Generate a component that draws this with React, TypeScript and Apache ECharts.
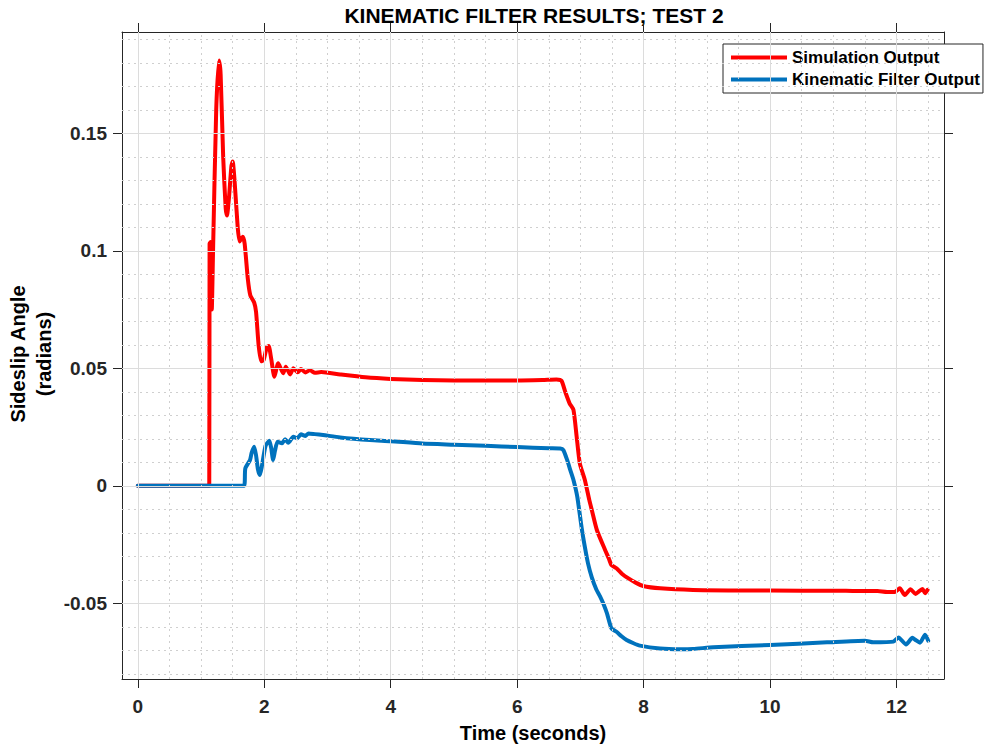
import React, { useEffect, useRef } from "react";
import * as echarts from "echarts";

// Time (s) and sideslip angle (rad) of the simulated vehicle
const simTime = [
  0, 1.13, 1.135, 1.15, 1.17, 1.19, 1.24, 1.285, 1.31, 1.35, 1.39, 1.41, 1.44, 1.48, 1.5, 1.53,
  1.58, 1.61, 1.66, 1.69, 1.74, 1.78, 1.84, 1.87, 1.91, 1.95, 1.99, 2.04, 2.07, 2.11, 2.16, 2.22,
  2.3, 2.34, 2.41, 2.46, 2.53, 2.58, 2.65, 2.72, 2.8, 2.9, 3.2, 3.6, 4.0, 4.5, 5.0, 5.5, 6.0, 6.4,
  6.62, 6.7, 6.76, 6.83, 6.89, 6.94, 6.99, 7.07, 7.14, 7.18, 7.26, 7.39, 7.45, 7.49, 7.57,
  7.66, 7.76, 7.88, 7.99, 8.26, 8.78, 9.5, 10.5, 11.2, 11.7, 11.85, 11.97, 12.05, 12.13, 12.22,
  12.3, 12.36, 12.41, 12.45, 12.49,
];
const simAngle = [
  0, 0, 0.103, 0.1037, 0.075, 0.1, 0.16, 0.181, 0.175, 0.14, 0.118, 0.115, 0.122, 0.136, 0.138,
  0.13, 0.11, 0.104, 0.106, 0.103, 0.088, 0.081, 0.078, 0.074, 0.06, 0.053, 0.0535, 0.059, 0.0595,
  0.054, 0.0464, 0.0521, 0.0479, 0.0507, 0.0474, 0.05, 0.0483, 0.0497, 0.0482, 0.0492, 0.0481,
  0.0484, 0.0474, 0.0462, 0.0455, 0.045, 0.0448, 0.0448, 0.0448, 0.045, 0.0452, 0.0447, 0.04,
  0.035, 0.0323, 0.021, 0.0096, 0.0025, -0.006, -0.0103, -0.0188, -0.0273, -0.031,
  -0.0337, -0.0351, -0.0375, -0.0394, -0.0413, -0.0426, -0.0436, -0.0443, -0.0445, -0.0446,
  -0.0447, -0.0448, -0.0452, -0.0452, -0.0436, -0.0465, -0.044, -0.046, -0.0448, -0.0439, -0.0457,
  -0.0443,
];

// Time (s) and sideslip angle (rad) estimated by the kinematic filter
const filterTime = [
  0, 1.68, 1.7, 1.775, 1.8, 1.84, 1.87, 1.9, 1.93, 1.96, 2.02, 2.08, 2.11, 2.14, 2.17, 2.21, 2.28,
  2.33, 2.38, 2.46, 2.52, 2.58, 2.65, 2.7, 2.8, 2.93, 3.2, 3.67, 4.0, 4.5, 5.0, 5.5, 6.0, 6.5, 6.68,
  6.73, 6.79, 6.84, 6.89, 6.95, 7.02, 7.07, 7.12, 7.18, 7.25, 7.31, 7.36, 7.42, 7.49, 7.57, 7.65,
  7.73, 7.84, 7.94, 8.26, 8.57, 8.78, 9.1, 10.0, 10.9, 11.5, 11.63, 11.95, 12.03, 12.15, 12.25,
  12.3, 12.37, 12.45, 12.5,
];
const filterAngle = [
  0, 0, 0.0074, 0.011, 0.014, 0.0166, 0.013, 0.007, 0.0046, 0.008, 0.017, 0.0192, 0.016, 0.011,
  0.015, 0.0188, 0.0181, 0.0198, 0.0183, 0.0209, 0.0202, 0.0219, 0.0212, 0.0223, 0.022, 0.0216,
  0.0206, 0.0195, 0.019, 0.018, 0.0175, 0.017, 0.0165, 0.016, 0.0159, 0.0152, 0.011, 0.0067,
  0.0025, -0.0046, -0.018, -0.026, -0.033, -0.039, -0.044, -0.047, -0.05, -0.0543, -0.0606,
  -0.0621, -0.064, -0.0656, -0.067, -0.068, -0.0692, -0.0695, -0.0694, -0.0687, -0.0677, -0.0666,
  -0.0659, -0.0666, -0.0663, -0.0645, -0.0675, -0.0647, -0.0656, -0.0668, -0.0634, -0.0659,
];

const xTicks = [0, 2, 4, 6, 8, 10, 12];
const yTicks = [-0.05, 0, 0.05, 0.1, 0.15];
const yTickLabels = ["-0.05", "0", "0.05", "0.1", "0.15"];

const seriesNames = ["Simulation Output", "Kinematic Filter Output"];
const seriesColors = ["#ff0000", "#0072bd"];

const X_MIN = -0.25;
const X_MAX = 12.75;
const Y_MIN = -0.0822;
const Y_MAX = 0.1931;

const FONT = '"Liberation Sans", Arial, Helvetica, sans-serif';
const AXIS_COLOR = "#262626";

function pairs(xs: number[], ys: number[]) {
  return xs.map((x, i) => [x, ys[i]]);
}

// minor grid: every 0.5 s and every 0.01 rad
function minorX() {
  const out: number[] = [];
  for (let i = 1; i <= 25; i++) if (i % 4 !== 0) out.push(i * 0.5);
  return out;
}
function minorY() {
  const out: number[] = [];
  for (let i = -8; i <= 19; i++) if (i % 5 !== 0) out.push(i / 100);
  return out;
}

export default function App() {
  const ref = useRef<HTMLDivElement>(null);

  useEffect(() => {
    if (!ref.current) return;
    const chart = echarts.init(ref.current, undefined, { renderer: "svg" });

    const minorStyle = { color: "#cfcfcf", width: 1, type: [2, 4] as number[] };
    const majorStyle = { color: "#dcdcdc", width: 1, type: "solid" as const };

    const gridLines = [
      ...minorX().map((v) => ({ xAxis: v, lineStyle: minorStyle })),
      ...minorY().map((v) => ({ yAxis: v, lineStyle: minorStyle })),
      ...xTicks.map((v) => ({ xAxis: v, lineStyle: majorStyle })),
      ...yTicks.map((v) => ({ yAxis: v, lineStyle: majorStyle })),
    ];

    const tickCommon = {
      show: true,
      inside: false,
      length: 9,
      lineStyle: { color: AXIS_COLOR, width: 1 },
    };
    const lineCommon = { show: true, onZero: false, lineStyle: { color: AXIS_COLOR, width: 1 } };

    const textStyle = (text: string) => ({
      text,
      font: `bold 20px ${FONT}`,
      fill: "#000000",
      align: "center",
      verticalAlign: "middle",
      textAlign: "center",
      textVerticalAlign: "middle",
    });

    chart.setOption({
      animation: false,
      backgroundColor: "#ffffff",
      grid: { left: 122, top: 32, right: 42, bottom: 70, containLabel: false },
      xAxis: [
        {
          type: "value",
          min: X_MIN,
          max: X_MAX,
          position: "bottom",
          axisLine: lineCommon,
          axisTick: { ...tickCommon, customValues: xTicks },
          axisLabel: {
            customValues: xTicks,
            margin: 18,
            color: AXIS_COLOR,
            fontFamily: FONT,
            fontWeight: "bold",
            fontSize: 19,
            formatter: (v: number) => String(v),
          },
          splitLine: { show: false },
        },
        {
          type: "value",
          min: X_MIN,
          max: X_MAX,
          position: "top",
          axisLine: lineCommon,
          axisTick: { ...tickCommon, customValues: xTicks },
          axisLabel: { show: false },
          splitLine: { show: false },
        },
      ],
      yAxis: [
        {
          type: "value",
          min: Y_MIN,
          max: Y_MAX,
          position: "left",
          axisLine: lineCommon,
          axisTick: { ...tickCommon, customValues: yTicks },
          axisLabel: {
            customValues: yTicks,
            margin: 15,
            color: AXIS_COLOR,
            fontFamily: FONT,
            fontWeight: "bold",
            fontSize: 19,
            formatter: (v: number) => {
              const i = yTicks.findIndex((t) => Math.abs(t - v) < 1e-9);
              return i >= 0 ? yTickLabels[i] : "";
            },
          },
          splitLine: { show: false },
        },
        {
          type: "value",
          min: Y_MIN,
          max: Y_MAX,
          position: "right",
          axisLine: lineCommon,
          axisTick: { ...tickCommon, customValues: yTicks },
          axisLabel: { show: false },
          splitLine: { show: false },
        },
      ],
      legend: {
        show: true,
        orient: "vertical",
        left: 723,
        top: 44,
        data: seriesNames.map((n) => ({ name: n, icon: "rect" })),
        itemWidth: 56,
        itemHeight: 4,
        itemGap: 5,
        padding: [5, 3, 5, 8],
        borderColor: AXIS_COLOR,
        borderWidth: 1,
        backgroundColor: "#ffffff",
        borderRadius: 0,
        textStyle: {
          color: "#000000",
          fontFamily: FONT,
          fontWeight: "bold",
          fontSize: 17,
          lineHeight: 17,
        },
      },
      graphic: [
        {
          type: "text",
          x: 534,
          y: 15,
          style: { ...textStyle("KINEMATIC FILTER RESULTS; TEST 2"), font: `bold 21px ${FONT}` },
        },
        { type: "text", x: 533, y: 733, style: textStyle("Time (seconds)") },
        { type: "text", x: 18, y: 354, rotation: Math.PI / 2, style: textStyle("Sideslip Angle") },
        { type: "text", x: 44, y: 354, rotation: Math.PI / 2, style: textStyle("(radians)") },
      ],
      series: [
        {
          name: "grid",
          type: "line",
          data: [],
          silent: true,
          z: 1,
          markLine: {
            silent: true,
            symbol: ["none", "none"],
            label: { show: false },
            animation: false,
            data: gridLines,
          },
        },
        {
          name: seriesNames[0],
          type: "line",
          data: pairs(simTime, simAngle),
          showSymbol: false,
          symbol: "none",
          smooth: 0.2,
          z: 3,
          lineStyle: { color: seriesColors[0], width: 4, cap: "round", join: "round" },
          itemStyle: { color: seriesColors[0] },
        },
        {
          name: seriesNames[1],
          type: "line",
          data: pairs(filterTime, filterAngle),
          showSymbol: false,
          symbol: "none",
          smooth: 0.2,
          z: 3,
          lineStyle: { color: seriesColors[1], width: 4, cap: "round", join: "round" },
          itemStyle: { color: seriesColors[1] },
        },
      ],
    });

    return () => chart.dispose();
  }, []);

  return (
    <div
      ref={ref}
      style={{ position: "absolute", left: 0, top: 0, width: 986, height: 749, background: "#fff" }}
    />
  );
}
